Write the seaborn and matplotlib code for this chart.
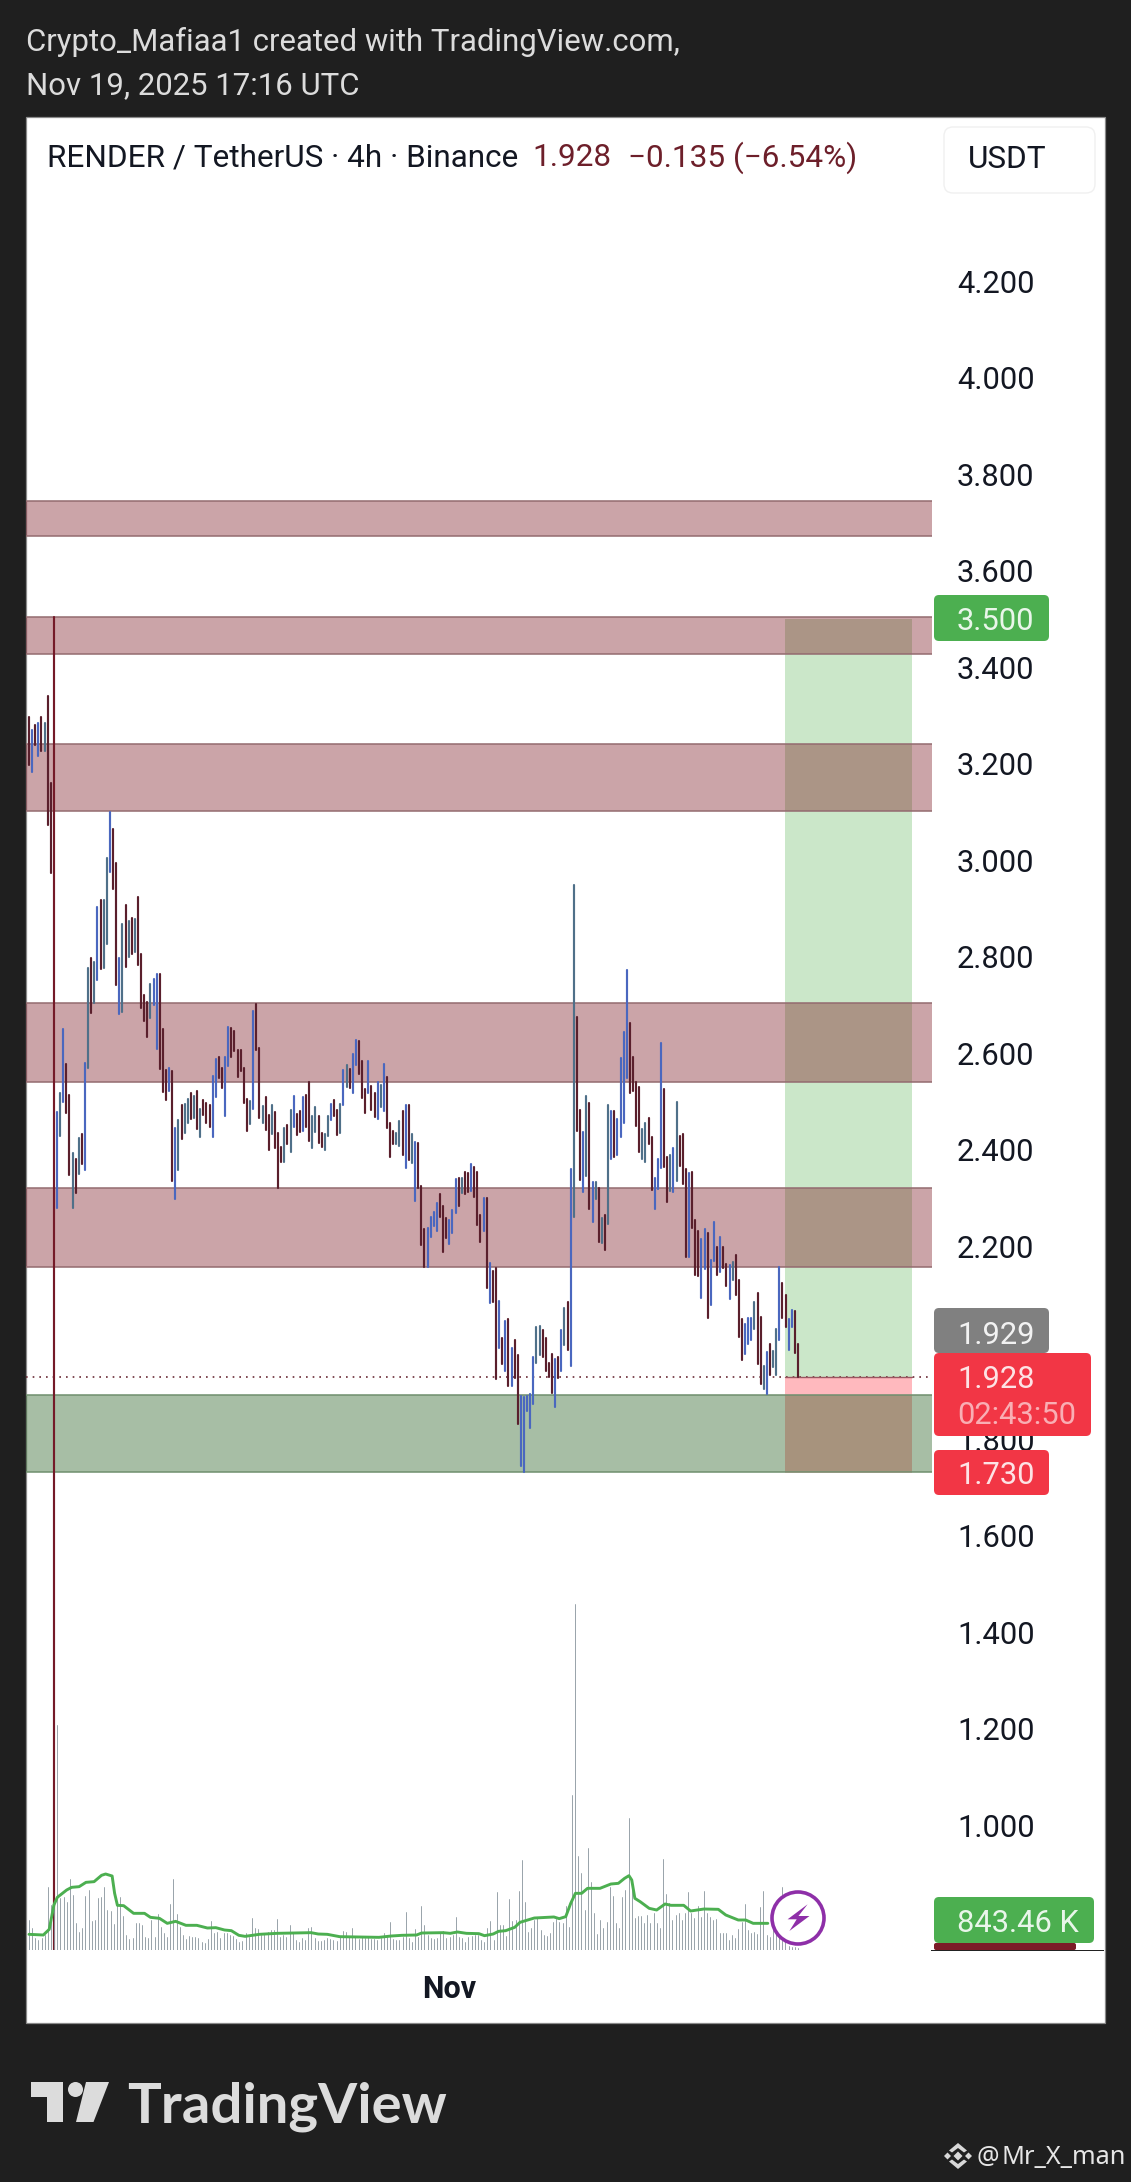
import numpy as np
import pandas as pd
import matplotlib
matplotlib.use("Agg")
import matplotlib.pyplot as plt
import seaborn as sns
from matplotlib.patches import Circle, FancyBboxPatch, Polygon, Rectangle
from matplotlib.transforms import Affine2D

# bar highs / lows / kind (d maroon, r bright maroon, b blue, g grey blue)
highs = [
    3.296, 3.270, 3.280, 3.285, 3.296, 3.285, 3.339, 3.159, 3.504, 2.477,
    2.518, 2.649, 2.578, 2.514, 2.392, 2.381, 2.423, 2.433, 2.580, 2.776,
    2.798, 2.789, 2.902, 2.917, 2.917, 3.004, 3.100, 3.064, 2.993, 2.798,
    2.867, 2.907, 2.874, 2.879, 2.877, 2.923, 2.805, 2.720, 2.706, 2.744,
    2.753, 2.764, 2.764, 2.649, 2.564, 2.568, 2.563, 2.444, 2.461, 2.492,
    2.494, 2.504, 2.518, 2.511, 2.521, 2.484, 2.502, 2.497, 2.493, 2.552,
    2.587, 2.591, 2.570, 2.591, 2.654, 2.651, 2.645, 2.606, 2.607, 2.568,
    2.504, 2.500, 2.687, 2.701, 2.611, 2.490, 2.509, 2.471, 2.492, 2.477,
    2.435, 2.406, 2.444, 2.450, 2.482, 2.511, 2.473, 2.480, 2.509, 2.513,
    2.540, 2.470, 2.488, 2.470, 2.434, 2.432, 2.470, 2.494, 2.503, 2.482,
    2.494, 2.565, 2.575, 2.567, 2.597, 2.628, 2.624, 2.584, 2.525, 2.584,
    2.532, 2.518, 2.539, 2.534, 2.577, 2.550, 2.454, 2.439, 2.434, 2.460,
    2.480, 2.492, 2.492, 2.432, 2.416, 2.413, 2.325, 2.235, 2.237, 2.261,
    2.271, 2.289, 2.308, 2.283, 2.259, 2.253, 2.275, 2.339, 2.340, 2.342,
    2.353, 2.351, 2.370, 2.363, 2.353, 2.264, 2.299, 2.299, 2.164, 2.149,
    2.155, 2.086, 2.010, 2.045, 2.048, 1.988, 2.005, 1.974, 1.889, 1.888,
    1.889, 1.893, 1.971, 2.032, 2.035, 2.027, 2.009, 1.957, 1.976, 1.965,
    1.969, 2.027, 2.071, 2.085, 2.359, 2.948, 2.674, 2.482, 2.436, 2.511,
    2.497, 2.332, 2.332, 2.321, 2.258, 2.264, 2.493, 2.480, 2.480, 2.463,
    2.590, 2.643, 2.772, 2.662, 2.592, 2.539, 2.529, 2.442, 2.455, 2.465,
    2.425, 2.340, 2.380, 2.621, 2.526, 2.384, 2.389, 2.404, 2.499, 2.429,
    2.433, 2.359, 2.351, 2.353, 2.254, 2.232, 2.214, 2.235, 2.226, 2.171,
    2.250, 2.197, 2.218, 2.199, 2.163, 2.160, 2.167, 2.181, 2.129, 2.049,
    2.038, 2.051, 2.051, 2.083, 2.102, 2.053, 1.951, 1.981, 1.998, 1.983,
    2.028, 2.157, 2.123, 2.098, 2.049, 2.068, 2.066, 1.998,
]
lows = [
    3.197, 3.183, 3.238, 3.216, 3.227, 3.225, 3.073, 2.973, 0.741, 2.279,
    2.428, 2.499, 2.475, 2.348, 2.279, 2.309, 2.350, 2.369, 2.357, 2.570,
    2.684, 2.704, 2.751, 2.774, 2.777, 2.827, 2.976, 2.939, 2.741, 2.680,
    2.686, 2.779, 2.800, 2.805, 2.810, 2.783, 2.693, 2.667, 2.634, 2.672,
    2.699, 2.609, 2.566, 2.520, 2.502, 2.522, 2.334, 2.297, 2.357, 2.421,
    2.435, 2.454, 2.464, 2.466, 2.442, 2.426, 2.471, 2.454, 2.447, 2.426,
    2.508, 2.549, 2.528, 2.470, 2.573, 2.592, 2.605, 2.551, 2.563, 2.497,
    2.439, 2.453, 2.483, 2.607, 2.466, 2.455, 2.440, 2.399, 2.433, 2.403,
    2.321, 2.375, 2.375, 2.412, 2.395, 2.447, 2.431, 2.437, 2.439, 2.447,
    2.418, 2.403, 2.437, 2.414, 2.406, 2.400, 2.428, 2.461, 2.470, 2.430,
    2.435, 2.492, 2.529, 2.527, 2.517, 2.575, 2.557, 2.506, 2.476, 2.518,
    2.482, 2.467, 2.463, 2.489, 2.479, 2.444, 2.385, 2.411, 2.412, 2.407,
    2.389, 2.361, 2.378, 2.373, 2.293, 2.320, 2.202, 2.157, 2.157, 2.219,
    2.242, 2.231, 2.261, 2.188, 2.216, 2.204, 2.226, 2.268, 2.282, 2.309,
    2.308, 2.313, 2.314, 2.302, 2.244, 2.209, 2.232, 2.114, 2.081, 2.085,
    1.924, 1.988, 1.956, 1.940, 1.909, 1.910, 1.926, 1.831, 1.745, 1.732,
    1.859, 1.822, 1.872, 1.957, 1.974, 1.971, 1.942, 1.929, 1.896, 1.866,
    1.926, 1.942, 1.995, 1.985, 1.952, 2.260, 2.438, 2.336, 2.313, 2.345,
    2.277, 2.249, 2.298, 2.209, 2.207, 2.191, 2.245, 2.380, 2.384, 2.389,
    2.427, 2.455, 2.549, 2.518, 2.522, 2.448, 2.394, 2.380, 2.374, 2.412,
    2.317, 2.277, 2.319, 2.362, 2.364, 2.292, 2.315, 2.311, 2.334, 2.366,
    2.328, 2.178, 2.178, 2.237, 2.139, 2.137, 2.093, 2.152, 2.051, 2.078,
    2.170, 2.139, 2.146, 2.154, 2.118, 2.091, 2.129, 2.098, 2.012, 1.964,
    1.977, 1.996, 2.006, 2.028, 1.956, 1.915, 1.903, 1.894, 1.933, 1.949,
    1.933, 2.006, 2.051, 2.032, 1.984, 2.032, 1.979, 1.928,
]
kinds = (
    "dbdbdgddrb" "gbddgdgdbg" "dgbdggbddb" "gdgdgddddg" "bbdddbdbgd"
    "ggdgdgdddb" "bddbbddddd" "dgbddgddgd" "ddgdgbddbd" "dggddggbdd"
    "gbgdbbdddb" "ddbgbdddgg" "dbdgbdddbb" "bbdddbbbdg" "ddbdddbdbd"
    "dbdbdbddbb" "bbbggddddb" "dbgdbgddbg" "dbgdgdgbdb" "bbbddddggd"
    "dbbbddgbgd" "ddbdddbbdb" "bdbddbgddd" "bbbgddgbdg" "gbddbbdd"
)

# volume bars, in units of 10.4 K
volume = [
    90, 65, 35, 30, 35, 45, 190, 135, 135, 675, 155, 160, 145, 212, 165, 80, 55, 65, 162, 180,
    88, 90, 155, 160, 190, 120, 118, 78, 140, 160, 102, 45, 32, 35, 82, 82, 75, 40, 35, 90,
    40, 107, 70, 52, 38, 138, 212, 107, 68, 45, 32, 42, 40, 40, 35, 25, 22, 32, 88, 52,
    55, 35, 50, 52, 45, 42, 32, 25, 28, 52, 40, 95, 65, 63, 45, 48, 55, 60, 60, 92,
    40, 45, 40, 75, 52, 30, 25, 35, 30, 65, 70, 35, 28, 28, 30, 35, 32, 30, 28, 40,
    58, 55, 40, 65, 40, 32, 40, 35, 40, 32, 32, 30, 35, 50, 40, 85, 32, 30, 30, 40,
    114, 35, 25, 62, 40, 132, 75, 45, 35, 32, 35, 50, 58, 35, 40, 45, 100, 40, 35, 25,
    40, 42, 45, 45, 30, 25, 65, 88, 30, 173, 75, 75, 42, 152, 88, 90, 177, 270, 145, 55,
    65, 90, 95, 60, 45, 42, 50, 85, 92, 85, 80, 132, 70, 465, 1038, 282, 230, 120, 305, 205,
    110, 48, 90, 65, 85, 190, 162, 80, 65, 160, 180, 397, 210, 95, 102, 102, 80, 105, 80, 110,
    80, 65, 272, 168, 140, 90, 105, 110, 90, 110, 175, 110, 95, 132, 100, 177, 110, 100, 90, 92,
    52, 50, 50, 30, 45, 35, 62, 85, 138, 60, 50, 55, 48, 130, 177, 45, 40, 60, 50, 40,
    188, 30, 12, 10, 10, 7,
]
volume_unit_k = 10.4

# volume moving average: bar index and value in K
ma_bar = [
    0, 4.6, 6.5, 8, 9.1, 12.1, 13.7, 16.1, 18.3, 20.9, 23.3, 24.6, 26.7, 27.5, 28.4, 30.4, 33.6,
    37.1, 39, 41.9, 44.4, 47.1, 50.4, 53.9, 57.3, 60, 62.8, 65, 67.4, 69.4, 74, 79.7, 90.6, 92.9,
    95.8, 99.8, 112.4, 116.4, 119.8, 124.5, 126.1, 133, 135.3, 137.6, 140.5, 144.5, 146.3, 149.1,
    150.8, 153.1, 156, 157.7, 162.3, 168.6, 170.3, 172.4, 174, 175.5, 177.5, 179.4, 183.4, 186.9,
    189.3, 191.3, 192.7, 193.6, 194.6, 196.3, 199.2, 201.6, 204.3, 206.2, 210.3, 212.5, 216.8,
    221.4, 223.8, 227.8, 230.2, 232.6, 237.3,
]
ma_k = [
    489, 468, 645, 1404, 1643, 1872, 1955, 1976, 2111, 2132, 2330, 2371, 2309, 1768, 1394, 1383, 1144,
    1144, 1019, 988, 832, 894, 770, 770, 686, 697, 624, 603, 458, 426, 489, 520, 541, 499,
    489, 416, 395, 437, 458, 468, 530, 541, 520, 562, 520, 510, 447, 499,
    582, 603, 707, 863, 998, 1030, 978, 1040, 1456, 1768, 1768, 1924, 1924, 2059,
    2080, 2236, 2319, 2184, 1612, 1508, 1300, 1248, 1435, 1394, 1394, 1217, 1279,
    1269, 1092, 936, 936, 832, 832,
]

# horizontal zones on the chart (top, bottom)
red_zones = [(3.744, 3.672), (3.504, 3.427), (3.240, 3.102), (2.703, 2.540), (2.320, 2.157)]
green_zone = (1.891, 1.732)

# long position box
target_price = 3.500
entry_price = 1.928
stop_price = 1.730
box_start_bar = 242.8
box_end_bar = 283.7

price_ticks = [1.0, 1.2, 1.4, 1.6, 1.8, 2.0, 2.2, 2.4, 2.6, 2.8, 3.0, 3.2, 3.4, 3.6, 3.8, 4.0, 4.2]
nov_bar = 135

W, H = 1131, 2182
BG = "#1f1f1f"
TEXT = "#131722"

sns.set_theme(style="white")
plt.rcParams["font.family"] = ["Roboto", "DejaVu Sans"]

fig = plt.figure(figsize=(W / 100, H / 100), dpi=100, facecolor=BG)
px = Affine2D().scale(1 / W, -1 / H).translate(0, 1) + fig.transFigure


def put_text(x, y, s, size=22.2, color=TEXT, **kw):
    kw.setdefault("va", "center")
    fig.text(x / W, 1 - y / H, s, fontsize=size, color=color, zorder=5, **kw)


def put_box(x0, y0, x1, y1, color, radius=5):
    fig.add_artist(FancyBboxPatch((x0, y0), x1 - x0, y1 - y0, boxstyle=f"round,pad=0,rounding_size={radius}",
                                  fc=color, ec="none", transform=px, zorder=2))


def range_frame(x, lo, hi, kind):
    rows = []
    for i in range(len(x)):
        rows.append((x[i], lo[i], kind[i]))
        rows.append((x[i], hi[i], kind[i]))
    return pd.DataFrame(rows, columns=["x", "y", "kind"])


# white panel behind everything
fig.add_artist(Rectangle((25.5, 116.5), 1104.5 - 25.5, 2023 - 116.5, fc="white", ec="#8a8a8a", lw=0.9,
                         transform=px, zorder=-1))

# price pane, pixel box 26..932 x 117..1950
ax = fig.add_axes([26 / W, 1 - 1950 / H, (932 - 26) / W, (1950 - 117) / H])
ax.patch.set_alpha(0)
n = len(highs)
pitch = (798 - 29) / (n - 1)
ax.set_xlim((26 - 29) / pitch, (932 - 29) / pitch)
ax.set_ylim(0.741, 4.54)

# long position box first so the zones tint it
ax.fill_between([box_start_bar, box_end_bar], entry_price, target_price, color="#cbe7c9", lw=0, zorder=1)
ax.fill_between([box_start_bar, box_end_bar], stop_price, entry_price, color="#ffb9be", lw=0, zorder=1)

for top, bottom in red_zones:
    ax.axhspan(bottom, top, color="#78121d", alpha=0.385, lw=0, zorder=2)
    ax.axhline(top, color="#936b6f", lw=1.1, zorder=2.1)
    ax.axhline(bottom, color="#936b6f", lw=1.1, zorder=2.1)
ax.axhspan(green_zone[1], green_zone[0], color="#1a5615", alpha=0.385, lw=0, zorder=2)
ax.axhline(green_zone[0], color="#6f8f6e", lw=1.1, zorder=2.1)
ax.axhline(green_zone[1], color="#6f8f6e", lw=1.1, zorder=2.1)

ax.axhline(entry_price, color="#6a2a35", lw=1.2, ls=(0, (1, 3)), zorder=2.2)
ax.plot([box_start_bar, box_end_bar], [entry_price, entry_price], color="#9a5660", lw=1.0, zorder=2.3)

bars = range_frame(np.arange(n), lows, highs, kinds)
sns.lineplot(data=bars, x="x", y="y", units="x", estimator=None, sort=False, hue="kind",
             palette={"d": "#5a1f2c", "r": "#741a28", "b": "#4a67bf", "g": "#4f7089"},
             lw=1.55, legend=False, ax=ax, zorder=3)

ax.yaxis.tick_right()
ax.set_yticks(price_ticks)
ax.set_yticklabels([f"{t:.3f}" for t in price_ticks], fontsize=22.2, color=TEXT)
ax.tick_params(axis="y", length=0, pad=18)
ax.set_xticks([nov_bar])
ax.set_xticklabels(["Nov"], fontsize=22, fontweight="bold", color=TEXT)
ax.tick_params(axis="x", length=0, pad=17)
ax.set_xlabel("")
ax.set_ylabel("")
sns.despine(ax=ax, left=True, bottom=True)
ax.spines["right"].set_visible(False)

# volume pane on top, same pixel box, roughly 31.2 K per pixel
vol_ax = fig.add_axes(ax.get_position(), sharex=ax)
vol_ax.patch.set_alpha(0)
vol_ax.set_ylim(0, (1950 - 117) * 31.2)
vol_x = np.linspace(0, n - 1, len(volume))
vol_k = [v * volume_unit_k for v in volume]
vol_bars = range_frame(vol_x, [0] * len(volume), vol_k, ["v"] * len(volume))
sns.lineplot(data=vol_bars, x="x", y="y", units="x", estimator=None, sort=False, color="#8b979f",
             lw=0.62, legend=False, ax=vol_ax, zorder=2)
sns.lineplot(x=ma_bar, y=ma_k, estimator=None, sort=False, color="#4caf50", lw=2.1, ax=vol_ax, zorder=3)
vol_ax.axis("off")

# header
put_text(26, 42, "Crypto_Mafiaa1 created with TradingView.com,", size=22.45, color="#dcdcdc")
put_text(26, 86, "Nov 19, 2025 17:16 UTC", size=22.45, color="#dcdcdc")
put_text(47, 158, "RENDER / TetherUS · 4h · Binance", size=22.65)
put_text(532, 158, "1.928", size=22.65, color="#6d1f2a")
put_text(628, 158, "−0.135 (−6.54%)", size=22.65, color="#6d1f2a")
fig.add_artist(FancyBboxPatch((944, 127), 151, 66, boxstyle="round,pad=0,rounding_size=9", fc="white",
                              ec="#f0f0f0", lw=1, transform=px, zorder=2))
put_text(968, 160, "USDT", size=22.65)

# price scale labels
put_box(934, 595, 1049, 641, "#4caf50")
put_text(957, 621, "3.500", color="#e9f6ea")
put_box(934, 1308, 1049, 1353, "#808080")
put_text(957, 1335, "1.929", color="#f2f2f2")
put_box(934, 1353, 1091, 1436, "#f23645")
put_text(957, 1380, "1.928", color="#fde3e5")
put_text(957, 1416, "02:43:50", color="#f9aeb4")
put_box(934, 1450, 1049, 1495, "#f23645")
put_text(957, 1476, "1.730", color="#fde3e5")

# volume label
fig.add_artist(Rectangle((931, 1950), 173, 0.9, fc="#222222", ec="none", transform=px, zorder=2))
put_box(934, 1943, 1076, 1950, "#7b1c27", radius=2)
put_box(934, 1897, 1094, 1943, "#4caf50")
put_text(957, 1923, "843.46 K", color="#e9f6ea")

# purple bolt badge
fig.add_artist(Circle((798, 1918), 26, fc="white", ec="#8e2fa8", lw=2.6, transform=px, zorder=4))
fig.add_artist(Polygon([(807.6, 1904.3), (787.6, 1919.3), (796.7, 1919.3), (789.4, 1931), (809.5, 1916), (798.5, 1916)],
                       closed=True, fc="#8e2fa8", ec="none", transform=px, zorder=4))

# TradingView logo
logo = "#dcdcdc"
fig.add_artist(Polygon([(31, 2082), (62.5, 2082), (62.5, 2122), (46.5, 2122), (46.5, 2097), (31, 2097)],
                       closed=True, fc=logo, ec="none", transform=px))
fig.add_artist(Circle((75.5, 2089.5), 7.5, fc=logo, ec="none", transform=px))
fig.add_artist(Polygon([(86, 2082), (109, 2082), (93.5, 2122), (76, 2122)], closed=True, fc=logo, ec="none", transform=px))
put_text(127, 2122, "TradingView", size=40.5, color=logo, family="Lato", fontweight="bold", va="baseline")

# watermark
diamond = "#d8d8d8"
cx, cy = 958, 2156
for dx, r in [(0, 4.5), (-10.5, 3.5), (10.5, 3.5)]:
    fig.add_artist(Polygon([(cx + dx - r, cy), (cx + dx, cy - r), (cx + dx + r, cy), (cx + dx, cy + r)], closed=True,
                           fc=diamond, ec="none", transform=px))
for sign in (-1, 1):
    fig.add_artist(Polygon([(cx - 9, cy + sign * 5.5), (cx, cy + sign * 13), (cx + 9, cy + sign * 5.5),
                            (cx + 6, cy + sign * 3.5), (cx, cy + sign * 8), (cx - 6, cy + sign * 3.5)],
                           closed=True, fc=diamond, ec="none", transform=px))
put_text(977, 2157, "@", size=18, color="#e6e6e6", family="Noto Sans")
put_text(1002, 2157, "Mr_X_man", size=18.2, color="#e6e6e6", family="Noto Sans")

fig.savefig("out.png", dpi=100, facecolor=BG)
